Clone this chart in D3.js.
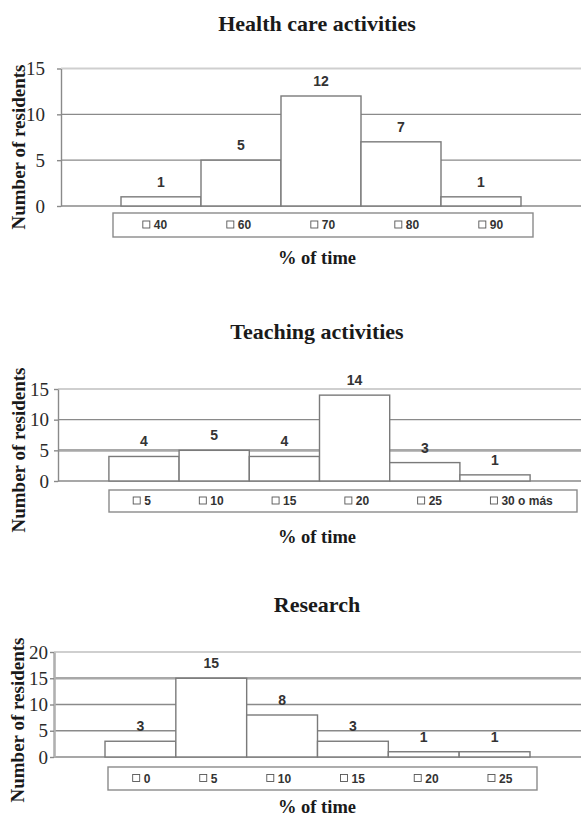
<!DOCTYPE html>
<html>
<head>
<meta charset="utf-8">
<script src="https://cdn.jsdelivr.net/npm/d3@7"></script>
<style>
  html, body { margin: 0; padding: 0; background: #fff; }
  svg { display: block; }
</style>
</head>
<body>
<svg id="chart" width="581" height="817"></svg>
<script>
// ---------- data ----------
const healthTitle = "Health care activities";
const healthCategories = ["40", "60", "70", "80", "90"];
const healthValues = [1, 5, 12, 7, 1];
const healthTicks = [0, 5, 10, 15];

const teachingTitle = "Teaching activities";
const teachingCategories = ["5", "10", "15", "20", "25", "30 o más"];
const teachingValues = [4, 5, 4, 14, 3, 1];
const teachingTicks = [0, 5, 10, 15];

const researchTitle = "Research";
const researchCategories = ["0", "5", "10", "15", "20", "25"];
const researchValues = [3, 15, 8, 3, 1, 1];
const researchTicks = [0, 5, 10, 15, 20];

const yAxisTitle = "Number of residents";
const xAxisTitle = "% of time";

// ---------- drawing ----------
const svg = d3.select("#chart");
const SERIF = "'Liberation Serif', 'DejaVu Serif', serif";
const SANS = "'Liberation Sans', Arial, sans-serif";

function drawChart(categories, values, ticks, title, L) {
  const g = svg.append("g");
  const yMax = ticks[ticks.length - 1];
  const y = d3.scaleLinear().domain([0, yMax]).range([L.y0, L.yTop]);
  const x = d3.scaleBand().domain(categories)
    .range([L.plotLeft, L.plotRight]).paddingInner(0).paddingOuter(L.outer);

  // title
  g.append("text").attr("x", L.titleX).attr("y", L.titleY)
    .attr("text-anchor", "middle").attr("dominant-baseline", "central")
    .style("font-family", SERIF).style("font-weight", "bold")
    .style("font-size", "22px").attr("fill", "#1a1a1a").text(title);

  // gridlines
  g.append("g").selectAll("line").data(ticks).join("line")
    .attr("x1", L.plotLeft).attr("x2", L.plotRight)
    .attr("y1", d => y(d)).attr("y2", d => y(d))
    .attr("stroke", d => d === yMax ? "#cfcfcf" : (L.thick.includes(d) ? "#a8a8a8" : "#8a8a8a"))
    .attr("stroke-width", d => d === yMax ? 2 : (L.thick.includes(d) ? 2.6 : 1.4));

  // bars
  g.append("g").selectAll("rect").data(values).join("rect")
    .attr("x", (d, i) => x(categories[i]))
    .attr("y", d => y(d))
    .attr("width", x.bandwidth())
    .attr("height", d => y(0) - y(d))
    .attr("fill", "#fff").attr("stroke", "#7a7a7a").attr("stroke-width", 1.4);

  // value labels
  g.append("g").selectAll("text").data(values).join("text")
    .attr("x", (d, i) => x(categories[i]) + x.bandwidth() / 2)
    .attr("y", d => y(d) - 15)
    .attr("text-anchor", "middle").attr("dominant-baseline", "central")
    .style("font-family", SANS).style("font-weight", "bold").style("font-size", "14px")
    .attr("fill", "#333").text(d => d);

  // y axis
  const ax = g.append("g").attr("transform", `translate(${L.plotLeft},0)`)
    .call(d3.axisLeft(y).tickValues(ticks).tickSize(4).tickSizeOuter(0).tickPadding(L.tickPad));
  ax.select(".domain").attr("stroke", L.axisColor).attr("stroke-width", L.axisWidth);
  ax.selectAll(".tick line").attr("stroke", "#8a8a8a").attr("stroke-width", 1.4);
  ax.selectAll(".tick text").style("font-family", SERIF).style("font-size", "19px")
    .attr("fill", "#2a2a2a");

  // y axis title
  g.append("text")
    .attr("transform", `translate(${L.yTitleX},${L.yTitleY}) rotate(-90)`)
    .attr("text-anchor", "middle").attr("dominant-baseline", "central")
    .style("font-family", SERIF).style("font-weight", "bold").style("font-size", "19px")
    .attr("fill", "#1a1a1a").text(yAxisTitle);

  // legend box
  g.append("rect").attr("x", L.legX0).attr("y", L.legY0)
    .attr("width", L.legX1 - L.legX0).attr("height", L.legY1 - L.legY0)
    .attr("fill", "#fff").attr("stroke", "#8a8a8a").attr("stroke-width", 1.4);
  const legCy = (L.legY0 + L.legY1) / 2;
  const items = g.append("g").selectAll("g").data(categories).join("g");
  items.append("rect").attr("width", 7).attr("height", 7).attr("y", legCy - 4)
    .attr("fill", "#fff").attr("stroke", "#555").attr("stroke-width", 0.9);
  items.append("text").attr("x", 11).attr("y", legCy)
    .attr("dominant-baseline", "central")
    .style("font-family", SANS).style("font-weight", "bold").style("font-size", "12px")
    .attr("fill", "#333").text(d => d);
  const widths = [];
  items.each(function () { widths.push(11 + this.querySelector("text").getComputedTextLength()); });
  const total = d3.sum(widths);
  const gap = (L.legX1 - L.legX0 - total) / categories.length;
  let cx = L.legX0 + gap / 2;
  items.each(function (d, i) {
    d3.select(this).attr("transform", `translate(${cx},0)`);
    cx += widths[i] + gap;
  });

  // x axis title
  g.append("text").attr("x", L.titleX).attr("y", L.xTitleY)
    .attr("text-anchor", "middle").attr("dominant-baseline", "central")
    .style("font-family", SERIF).style("font-weight", "bold").style("font-size", "18.5px")
    .attr("fill", "#1a1a1a").text(xAxisTitle);
}

drawChart(healthCategories, healthValues, healthTicks, healthTitle, {
  plotLeft: 61, plotRight: 581, outer: 0.75, y0: 206, yTop: 68.5,
  titleX: 317, titleY: 23, xTitleY: 258, yTitleX: 18, yTitleY: 147,
  legX0: 113, legX1: 533, legY0: 213, legY1: 237, tickPad: 12,
  axisColor: "#8a8a8a", axisWidth: 1.4, thick: []
});

drawChart(teachingCategories, teachingValues, teachingTicks, teachingTitle, {
  plotLeft: 58, plotRight: 581, outer: 0.725, y0: 481, yTop: 389,
  titleX: 317, titleY: 331, xTitleY: 537, yTitleX: 18, yTitleY: 450,
  legX0: 109, legX1: 577, legY0: 490, legY1: 512, tickPad: 5,
  axisColor: "#8a8a8a", axisWidth: 1.4, thick: [5]
});

drawChart(researchCategories, researchValues, researchTicks, researchTitle, {
  plotLeft: 54, plotRight: 581, outer: 0.72, y0: 757, yTop: 652,
  titleX: 317, titleY: 604, xTitleY: 807, yTitleX: 17.5, yTitleY: 720,
  legX0: 108, legX1: 537, legY0: 767, legY1: 790, tickPad: 2,
  axisColor: "#b0b0b0", axisWidth: 2.6, thick: [15]
});
</script>
</body>
</html>
